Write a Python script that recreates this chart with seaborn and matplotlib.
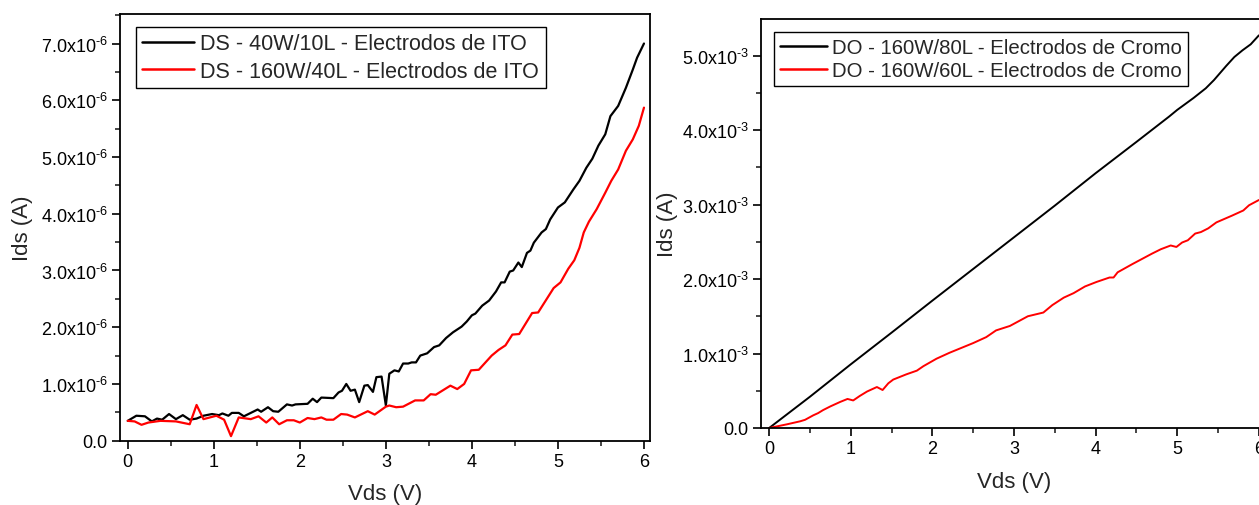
import matplotlib
matplotlib.use("Agg")
import matplotlib.pyplot as plt
from matplotlib.ticker import FuncFormatter, MultipleLocator
import seaborn as sns
import numpy as np

# ---- ITO electrodes (left panel), Ids in units of 1e-6 A ----
vds_ds40 = [0.00, 0.10, 0.20, 0.28, 0.34, 0.40, 0.48, 0.56, 0.64, 0.72, 0.80, 0.88,
            0.98, 1.06, 1.10, 1.17, 1.21, 1.29, 1.35, 1.43, 1.51, 1.55, 1.63, 1.69,
            1.75, 1.85, 1.91, 1.95, 2.09, 2.15, 2.20, 2.25, 2.39, 2.45, 2.49, 2.54,
            2.59, 2.64, 2.69, 2.75, 2.79, 2.85, 2.89, 2.95, 3.00, 3.04, 3.10, 3.15,
            3.20, 3.26, 3.30, 3.35, 3.40, 3.48, 3.56, 3.62, 3.70, 3.78, 3.88, 3.94,
            4.00, 4.04, 4.12, 4.20, 4.28, 4.34, 4.38, 4.44, 4.48, 4.54, 4.58, 4.64,
            4.68, 4.72, 4.81, 4.86, 4.91, 5.00, 5.08, 5.18, 5.25, 5.33, 5.40, 5.47,
            5.55, 5.61, 5.70, 5.79, 5.87, 5.92, 6.00]
ids_ds40 = [0.35, 0.44, 0.43, 0.34, 0.39, 0.37, 0.47, 0.38, 0.45, 0.37, 0.39, 0.44,
            0.47, 0.45, 0.48, 0.44, 0.49, 0.49, 0.43, 0.49, 0.55, 0.51, 0.59, 0.52,
            0.51, 0.64, 0.62, 0.64, 0.65, 0.74, 0.68, 0.76, 0.75, 0.85, 0.88, 1.00,
            0.88, 0.90, 0.68, 0.97, 0.98, 0.86, 1.12, 1.13, 0.62, 1.18, 1.24, 1.22,
            1.36, 1.36, 1.38, 1.38, 1.50, 1.54, 1.65, 1.68, 1.81, 1.91, 2.01, 2.10,
            2.21, 2.24, 2.38, 2.47, 2.63, 2.79, 2.79, 2.98, 3.00, 3.14, 3.06, 3.31,
            3.35, 3.49, 3.67, 3.73, 3.90, 4.11, 4.20, 4.43, 4.58, 4.81, 4.97, 5.20,
            5.40, 5.72, 5.90, 6.22, 6.54, 6.75, 7.00]

vds_ds160 = [0.00, 0.08, 0.16, 0.24, 0.38, 0.56, 0.72, 0.80, 0.88, 1.03, 1.12, 1.20,
             1.29, 1.43, 1.52, 1.61, 1.68, 1.76, 1.85, 1.93, 2.00, 2.09, 2.17, 2.25,
             2.31, 2.39, 2.48, 2.55, 2.64, 2.79, 2.87, 3.00, 3.04, 3.12, 3.20, 3.34,
             3.44, 3.52, 3.58, 3.75, 3.83, 3.91, 3.99, 4.08, 4.23, 4.31, 4.39, 4.47,
             4.55, 4.70, 4.77, 4.95, 5.03, 5.12, 5.19, 5.25, 5.30, 5.36, 5.45, 5.55,
             5.62, 5.70, 5.79, 5.87, 5.94, 6.00]
ids_ds160 = [0.35, 0.34, 0.28, 0.32, 0.35, 0.34, 0.29, 0.63, 0.38, 0.44, 0.37, 0.08,
             0.41, 0.38, 0.43, 0.32, 0.41, 0.29, 0.36, 0.36, 0.32, 0.40, 0.38, 0.41,
             0.37, 0.37, 0.47, 0.46, 0.41, 0.52, 0.46, 0.60, 0.62, 0.59, 0.60, 0.71,
             0.71, 0.82, 0.81, 0.97, 0.91, 1.00, 1.24, 1.25, 1.50, 1.60, 1.68, 1.87,
             1.88, 2.25, 2.26, 2.69, 2.79, 3.03, 3.18, 3.40, 3.67, 3.86, 4.08, 4.37,
             4.58, 4.78, 5.11, 5.31, 5.55, 5.87]

# ---- Chromium electrodes (right panel), Ids in units of 1e-3 A ----
vds_do80 = [0.0, 0.5, 1.0, 1.5, 2.0, 2.5, 3.0, 3.5, 4.0, 4.5, 4.9, 5.0, 5.2, 5.35,
            5.45, 5.6, 5.7, 5.8, 5.9, 6.0]
ids_do80 = [0.0, 0.42, 0.855, 1.28, 1.71, 2.135, 2.56, 2.985, 3.42, 3.84, 4.18, 4.27,
            4.43, 4.56, 4.67, 4.86, 4.98, 5.07, 5.15, 5.27]

vds_do60 = [0.00, 0.22, 0.38, 0.44, 0.54, 0.60, 0.66, 0.75, 0.87, 0.96, 1.03, 1.11,
            1.20, 1.32, 1.39, 1.46, 1.52, 1.68, 1.81, 1.89, 2.05, 2.21, 2.50, 2.66,
            2.78, 2.95, 3.17, 3.36, 3.47, 3.61, 3.73, 3.87, 4.01, 4.17, 4.22, 4.27,
            4.45, 4.69, 4.80, 4.92, 4.99, 5.06, 5.13, 5.22, 5.29, 5.38, 5.48, 5.67,
            5.81, 5.88, 6.00]
ids_do60 = [0.00, 0.05, 0.09, 0.11, 0.17, 0.20, 0.24, 0.29, 0.35, 0.39, 0.37, 0.43,
            0.49, 0.55, 0.51, 0.60, 0.65, 0.72, 0.77, 0.83, 0.93, 1.01, 1.14, 1.22,
            1.31, 1.37, 1.50, 1.55, 1.65, 1.75, 1.81, 1.90, 1.96, 2.02, 2.02, 2.09,
            2.20, 2.34, 2.40, 2.45, 2.43, 2.49, 2.52, 2.61, 2.63, 2.68, 2.76, 2.85,
            2.92, 2.99, 3.06]

labels_left = ["DS - 40W/10L - Electrodos de ITO", "DS - 160W/40L - Electrodos de ITO"]
labels_right = ["DO - 160W/80L - Electrodos de Cromo", "DO - 160W/60L - Electrodos de Cromo"]
x_label = "Vds (V)"
y_label = "Ids (A)"

sns.set_style("ticks")
plt.rcParams["font.family"] = ["Liberation Sans", "DejaVu Sans"]
plt.rcParams["mathtext.fontset"] = "custom"
plt.rcParams["mathtext.rm"] = "Liberation Sans"
plt.rcParams["mathtext.it"] = "Liberation Sans:italic"
plt.rcParams["mathtext.default"] = "regular"
plt.rcParams["axes.unicode_minus"] = False


def sci_formatter(exp):
    def fmt(v, pos):
        if abs(v) < 1e-15:
            return "0.0"
        # hyphen-style sign in the exponent
        return f"{v / 10 ** exp:.1f}x10$^{{\u2010{abs(exp)}}}$"
    return FuncFormatter(fmt)


def style_axes(ax, exp, ymajor):
    for s in ax.spines.values():
        s.set_linewidth(1.3)
        s.set_color("black")
    ax.xaxis.set_major_locator(MultipleLocator(1))
    ax.xaxis.set_minor_locator(MultipleLocator(0.5))
    ax.yaxis.set_major_locator(MultipleLocator(ymajor))
    ax.yaxis.set_minor_locator(MultipleLocator(ymajor / 2))
    ax.yaxis.set_major_formatter(sci_formatter(exp))
    ax.tick_params(which="major", direction="out", length=6, width=1.2,
                   labelsize=13, colors="black", pad=3)
    ax.tick_params(which="minor", direction="out", length=3.5, width=1.2)
    ax.tick_params(top=False, right=False, which="both")
    ax.set_xlabel(x_label, fontsize=16)
    ax.set_ylabel(y_label, fontsize=16)


W, H = 1259, 506
fig = plt.figure(figsize=(W / 100, H / 100), dpi=100)

# left panel: axes box 120..650 px horizontally, 15..441.7 px vertically
ax1 = fig.add_axes([120 / W, (H - 441.7) / H, 530 / W, 426.7 / H])
sns.lineplot(x=np.array(vds_ds40), y=np.array(ids_ds40) * 1e-6, ax=ax1,
             color="black", lw=1.6, label=labels_left[0], sort=False)
sns.lineplot(x=np.array(vds_ds160), y=np.array(ids_ds160) * 1e-6, ax=ax1,
             color="#ff0000", lw=1.6, label=labels_left[1], sort=False)
ax1.set_xlim(-0.09, 6.07)
ax1.set_ylim(0, 7.52e-6)
style_axes(ax1, -6, 1e-6)
ax1.yaxis.set_label_coords(-0.165, 0.5)
ax1.xaxis.set_label_coords(0.5, -0.10)

# right panel: axes box from 761 px, extending past the right edge
ax2 = fig.add_axes([761 / W, (H - 429) / H, 506 / W, 409 / H])
sns.lineplot(x=np.array(vds_do80), y=np.array(ids_do80) * 1e-3, ax=ax2,
             color="black", lw=1.4, label=labels_right[0], sort=False)
sns.lineplot(x=np.array(vds_do60), y=np.array(ids_do60) * 1e-3, ax=ax2,
             color="#ff0000", lw=1.4, label=labels_right[1], sort=False)
ax2.set_xlim(-0.1, 6.1)
ax2.set_ylim(0, 5.49e-3)
style_axes(ax2, -3, 1e-3)
ax2.yaxis.set_label_coords(-0.165, 0.5)
ax2.xaxis.set_label_coords(0.5, -0.105)

legend_opts = (
    (ax1, (0.030, 0.970), 15.5, 2.4, 0.3, 0.3),
    (ax2, (0.026, 0.968), 14.7, 2.3, 0.25, 0.2),
)
for ax, anchor, fsize, hlen, hpad, lspace in legend_opts:
    leg = ax.legend(loc="upper left", bbox_to_anchor=anchor, borderaxespad=0,
                    fontsize=fsize, frameon=True, fancybox=False, framealpha=1,
                    handlelength=hlen, handletextpad=hpad, borderpad=0.3,
                    labelspacing=lspace)
    leg.get_frame().set_edgecolor("black")
    leg.get_frame().set_linewidth(1.0)
    for line in leg.get_lines():
        line.set_linewidth(1.8)

fig.savefig("out.png", dpi=100)
